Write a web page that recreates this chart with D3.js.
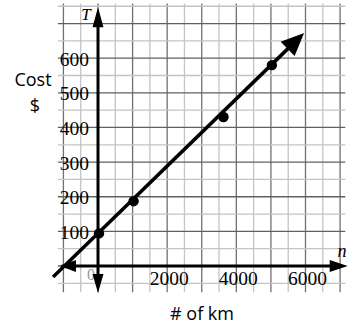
<!DOCTYPE html>
<html>
<head>
<meta charset="utf-8">
<script src="https://cdn.jsdelivr.net/npm/d3@7"></script>
<style>
  body { margin: 0; background: #fff; }
  svg { display: block; }
</style>
</head>
<body>
<div id="chart"></div>
<script>
// observed data points (km, cost $)
const distances = [0, 1000, 3600, 5000];
const costs = [97, 190, 433, 583];

// line of best fit endpoints
const trendN = [-1300, 5960];
const trendT = [-32, 673];

const xTicks = [2000, 4000, 6000];
const yTicks = [100, 200, 300, 400, 500, 600];

const width = 351;
const height = 327;

const svg = d3.select('#chart')
  .append('svg')
  .attr('width', width)
  .attr('height', height);

const x = d3.scaleLinear().domain([0, 6000]).range([98, 305.5]);
const y = d3.scaleLinear().domain([0, 600]).range([266, 58.2]);

// grid
const gridX = d3.range(-1000, 7001, 500);
const gridY = d3.range(-50, 751, 50);
const grid = svg.append('g');

grid.selectAll('line.v')
  .data(gridX)
  .join('line')
  .attr('x1', d => x(d)).attr('x2', d => x(d))
  .attr('y1', y(758)).attr('y2', y(-76))
  .attr('stroke', d => d % 1000 === 0 ? '#707070' : '#c4c4c4')
  .attr('stroke-width', 1.3);

grid.selectAll('line.h')
  .data(gridY)
  .join('line')
  .attr('x1', x(-1160)).attr('x2', x(7150))
  .attr('y1', d => y(d)).attr('y2', d => y(d))
  .attr('stroke', d => d % 100 === 0 ? '#606060' : '#c4c4c4')
  .attr('stroke-width', 1.3);

// arrowhead helper, tip at (tx, ty) pointing along angle
function arrowHead(tx, ty, angle, len, half) {
  const bx = tx - len * Math.cos(angle);
  const by = ty - len * Math.sin(angle);
  const px = -Math.sin(angle) * half;
  const py = Math.cos(angle) * half;
  return `M${tx},${ty}L${bx + px},${by + py}L${bx - px},${by - py}Z`;
}

const serif = 'Liberation Serif, Times New Roman, serif';

// tick labels
svg.append('g')
  .selectAll('text')
  .data(yTicks)
  .join('text')
  .attr('x', 89)
  .attr('y', d => y(d))
  .attr('dy', '0.38em')
  .attr('text-anchor', 'end')
  .style('font-family', serif)
  .style('font-size', '19.5px')
  .text(d => d);

svg.append('g')
  .selectAll('text')
  .data(xTicks)
  .join('text')
  .attr('x', d => x(d) + 2)
  .attr('y', 285)
  .attr('text-anchor', 'middle')
  .style('font-family', serif)
  .style('font-size', '19.5px')
  .text(d => d);

svg.append('text')
  .attr('x', 91)
  .attr('y', 280)
  .attr('text-anchor', 'middle')
  .attr('fill', '#999')
  .style('font-family', serif)
  .style('font-size', '16px')
  .text('0');

// axes
const axisG = svg.append('g');
axisG.append('line')
  .attr('x1', x(-1050)).attr('x2', x(7000))
  .attr('y1', y(0)).attr('y2', y(0))
  .attr('stroke', '#000').attr('stroke-width', 3);
axisG.append('path')
  .attr('d', arrowHead(x(7220), y(0), 0, 18, 6));
axisG.append('path')
  .attr('d', arrowHead(x(-1100), y(0), Math.PI, 16, 6));

axisG.append('line')
  .attr('x1', x(0)).attr('x2', x(0))
  .attr('y1', y(-60)).attr('y2', y(720))
  .attr('stroke', '#000').attr('stroke-width', 3);
axisG.append('path')
  .attr('d', arrowHead(x(0), y(747), -Math.PI / 2, 20, 5.5));
axisG.append('path')
  .attr('d', arrowHead(x(0), y(-78), Math.PI / 2, 19, 5.5));

// trend line with arrow
const x0 = x(trendN[0]), y0 = y(trendT[0]);
const x1 = x(trendN[1]), y1 = y(trendT[1]);
const ang = Math.atan2(y1 - y0, x1 - x0);
svg.append('line')
  .attr('x1', x0).attr('y1', y0)
  .attr('x2', x1 - 15 * Math.cos(ang)).attr('y2', y1 - 15 * Math.sin(ang))
  .attr('stroke', '#000')
  .attr('stroke-width', 3.5);
svg.append('path')
  .attr('d', arrowHead(x1, y1, ang, 23, 10));

// data points
svg.append('g')
  .selectAll('circle')
  .data(distances.map((d, i) => ({ n: d, t: costs[i] })))
  .join('circle')
  .attr('cx', d => x(d.n) + 1)
  .attr('cy', d => y(d.t) + 1)
  .attr('r', 5.2)
  .attr('fill', '#000');

// variable names
svg.append('text')
  .attr('x', 86).attr('y', 20)
  .attr('text-anchor', 'middle')
  .style('font-family', serif)
  .style('font-style', 'italic')
  .style('font-size', '17px')
  .text('T');

svg.append('text')
  .attr('x', 342).attr('y', 257)
  .attr('text-anchor', 'middle')
  .style('font-family', serif)
  .style('font-style', 'italic')
  .style('font-size', '18px')
  .text('n');

// axis titles
const hand = 'Open Sans, Noto Sans, sans-serif';
svg.append('text')
  .attr('x', 33).attr('y', 86)
  .attr('text-anchor', 'middle')
  .style('font-family', hand)
  .style('font-size', '18px')
  .text('Cost');
svg.append('text')
  .attr('x', 35).attr('y', 112)
  .attr('text-anchor', 'middle')
  .style('font-family', hand)
  .style('font-size', '18px')
  .text('$');
svg.append('text')
  .attr('x', 202).attr('y', 320)
  .attr('text-anchor', 'middle')
  .style('font-family', hand)
  .style('font-size', '18px')
  .text('# of km');
</script>
</body>
</html>
